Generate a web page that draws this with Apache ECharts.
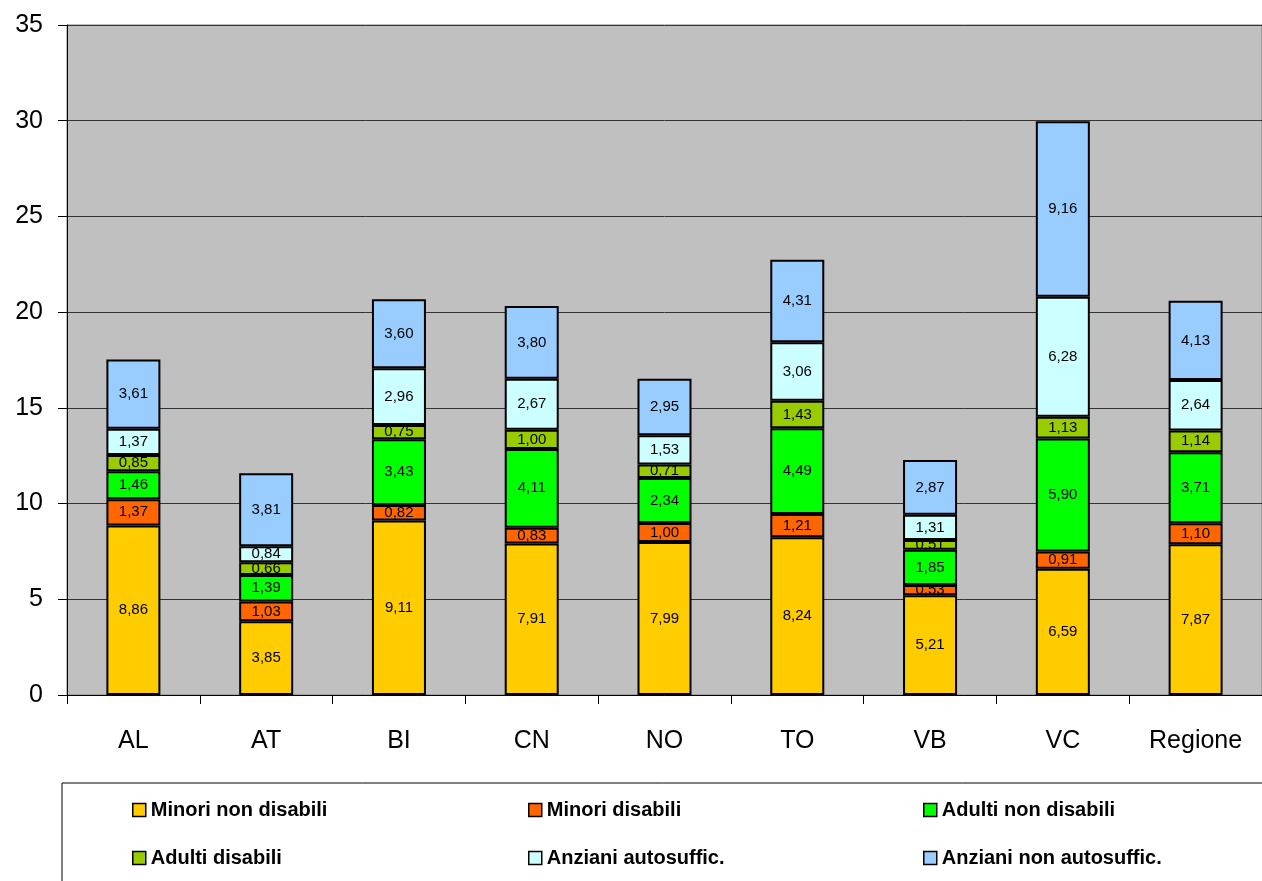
<!DOCTYPE html>
<html><head><meta charset="utf-8">
<script src="https://cdn.jsdelivr.net/npm/echarts@6/dist/echarts.min.js"></script>
<style>html,body{margin:0;padding:0;background:#fff}#c{width:1262px;height:881px}</style>
</head><body><div id="c"></div>
<script>
const categories = ['AL','AT','BI','CN','NO','TO','VB','VC','Regione'];
const seriesNames = ['Minori non disabili','Minori disabili','Adulti non disabili','Adulti disabili','Anziani autosuffic.','Anziani non autosuffic.'];
const minoriNonDisabili = [8.86,3.85,9.11,7.91,7.99,8.24,5.21,6.59,7.87];
const minoriDisabili = [1.37,1.03,0.82,0.83,1.00,1.21,0.53,0.91,1.10];
const adultiNonDisabili = [1.46,1.39,3.43,4.11,2.34,4.49,1.85,5.90,3.71];
const adultiDisabili = [0.85,0.66,0.75,1.00,0.71,1.43,0.51,1.13,1.14];
const anzianiAutosuffic = [1.37,0.84,2.96,2.67,1.53,3.06,1.31,6.28,2.64];
const anzianiNonAutosuffic = [3.61,3.81,3.60,3.80,2.95,4.31,2.87,9.16,4.13];
const yTicks = [0,5,10,15,20,25,30,35];
const colors = ['#FFCC00','#FF6600','#00FF00','#99CC00','#CCFFFF','#99CCFF'];
const allData = [minoriNonDisabili,minoriDisabili,adultiNonDisabili,adultiDisabili,anzianiAutosuffic,anzianiNonAutosuffic];

const chart = echarts.init(document.getElementById('c'));
const fontFam = 'Liberation Sans, Arial, sans-serif';
const legendCols = [132, 528, 923];
const legends = legendCols.map((x,i)=>({
  left:x, top:800, padding:0, orient:'vertical', itemGap:28, itemWidth:13, itemHeight:13, icon:'rect',
  itemStyle:{borderColor:'#000',borderWidth:1.5},
  textStyle:{fontSize:20,fontWeight:'bold',color:'#000',fontFamily:fontFam,lineHeight:20},
  data:[seriesNames[i], seriesNames[i+3]]
}));
chart.setOption({
  animation:false,
  textStyle:{fontFamily:fontFam},
  grid:{left:67,top:25,right:0,bottom:186,show:true,backgroundColor:'#C0C0C0',borderColor:'#808080',borderWidth:1},
  xAxis:{type:'category',data:categories,
    axisLine:{lineStyle:{color:'#000',width:1}},
    axisTick:{show:true,length:9,lineStyle:{color:'#000'}},
    axisLabel:{fontSize:25,color:'#000',margin:34,fontFamily:fontFam}},
  yAxis:{type:'value',min:yTicks[0],max:yTicks[yTicks.length-1],interval:5,
    axisLine:{show:true,lineStyle:{color:'#000',width:1}},
    axisTick:{show:true,length:9,lineStyle:{color:'#000'}},
    axisLabel:{fontSize:25,color:'#000',margin:24,fontFamily:fontFam},
    splitLine:{show:true,lineStyle:{color:'#333',width:1}}},
  legend:legends,
  graphic:[{type:'rect',shape:{x:62,y:783,width:1220,height:120},style:{fill:'none',stroke:'#000',lineWidth:1},z:-1}],
  series: allData.map((d,i)=>({
    name:seriesNames[i],type:'bar',stack:'s',data:d,barWidth:54,
    itemStyle:{color:colors[i],borderColor:'#000',borderWidth:2},
    label:{show:true,position:'inside',fontSize:15,color:'#000',fontFamily:fontFam,
      formatter:p=>p.value.toFixed(2).replace('.',',')}
  }))
});
</script></body></html>
